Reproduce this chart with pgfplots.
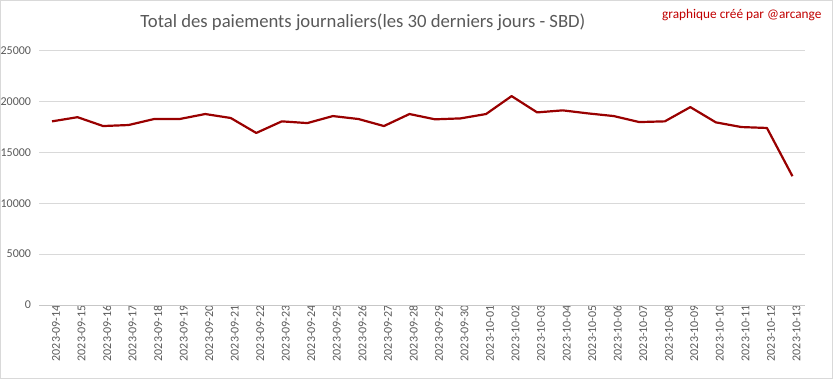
\documentclass[border=0pt]{standalone}
\usepackage{pgfplots}
\pgfplotsset{compat=1.18}
\usepackage{fontspec}
\setmainfont{Carlito}
\definecolor{txtgray}{RGB}{89,89,89}
\definecolor{gridgray}{RGB}{217,217,217}
\definecolor{linered}{RGB}{153,0,0}
\definecolor{signred}{RGB}{192,0,0}
\begin{document}
\begin{tikzpicture}[x=1bp,y=1bp]
\useasboundingbox (-52bp,-74bp) rectangle (781bp,305bp);
\draw[gridgray,line width=0.8bp] (-51.5bp,-73.5bp) rectangle (780.5bp,304.5bp);
\begin{axis}[
  at={(0,0)}, anchor=origin,
  scale only axis,
  width=766bp, height=254.5bp,
  xmin=-0.5, xmax=29.5,
  ymin=0, ymax=25000,
  axis line style={draw=none},
  ytick={0,5000,10000,15000,20000,25000},
  ymajorgrids, grid style={gridgray,line width=0.8bp},
  tick style={draw=none},
  xtick={0,...,29},
  xticklabels={2023-09-14,2023-09-15,2023-09-16,2023-09-17,2023-09-18,2023-09-19,2023-09-20,2023-09-21,2023-09-22,2023-09-23,2023-09-24,2023-09-25,2023-09-26,2023-09-27,2023-09-28,2023-09-29,2023-09-30,2023-10-01,2023-10-02,2023-10-03,2023-10-04,2023-10-05,2023-10-06,2023-10-07,2023-10-08,2023-10-09,2023-10-10,2023-10-11,2023-10-12,2023-10-13},
  xticklabel style={rotate=90, anchor=east, font=\fontsize{12bp}{14bp}\selectfont, text=txtgray, inner sep=0pt, yshift=-4bp},
  xtick pos=bottom,
  yticklabel style={font=\fontsize{12bp}{14bp}\selectfont, text=txtgray, inner sep=0pt, xshift=-8bp},
  scaled y ticks=false,
  /pgf/number format/assume math mode=true,
  /pgf/number format/set thousands separator={},
  clip=false,
]
\draw[gridgray!80!gray,line width=0.8bp] (axis cs:-0.5,0) -- (axis cs:29.5,0);
\addplot[linered, line width=2.2bp, mark=none, line join=round] coordinates {
(0,18040) (1,18450) (2,17580) (3,17680) (4,18270) (5,18270) (6,18760) (7,18370)
(8,16900) (9,18040) (10,17870) (11,18560) (12,18270) (13,17580) (14,18760)
(15,18240) (16,18330) (17,18760) (18,20520) (19,18920) (20,19120) (21,18820)
(22,18560) (23,17970) (24,18040) (25,19440) (26,17940) (27,17480) (28,17390) (29,12650)
};
\end{axis}
\node[text=txtgray, font=\fontsize{18.7bp}{22bp}\selectfont] at (311bp,283bp) {Total des paiements journaliers(les 30 derniers jours - SBD)};
\node[text=signred, font=\fontsize{13.3bp}{15bp}\selectfont, anchor=east] at (773bp,290bp) {graphique créé par @arcange};
\end{tikzpicture}
\end{document}
